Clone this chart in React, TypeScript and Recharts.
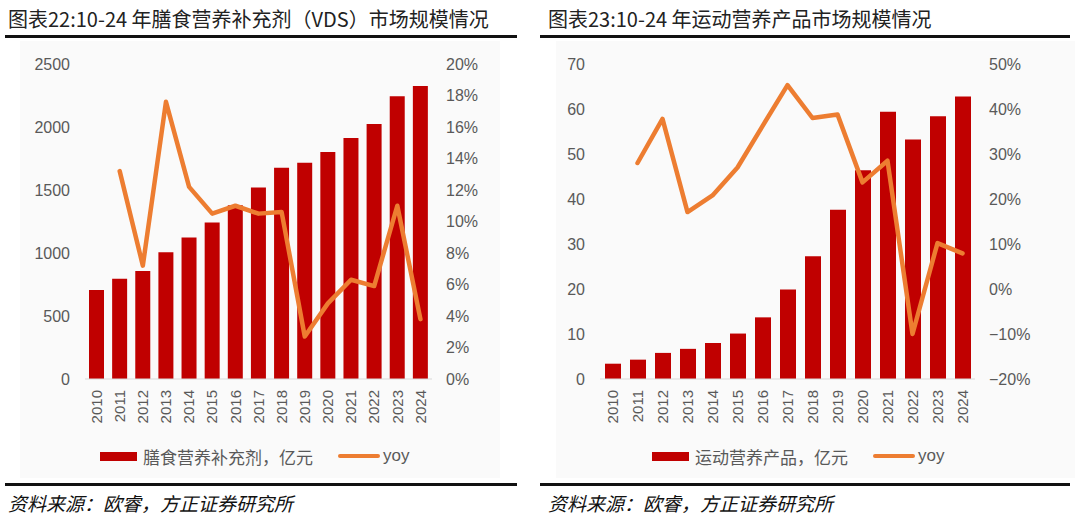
import React from "react";
import {
  Bar,
  ComposedChart,
  Legend,
  Line,
  XAxis,
  YAxis,
} from "recharts";

const years = [
  "2010", "2011", "2012", "2013", "2014", "2015", "2016", "2017",
  "2018", "2019", "2020", "2021", "2022", "2023", "2024",
];

// 膳食营养补充剂（VDS），亿元
const vdsSize = [707, 796, 857, 1005, 1123, 1242, 1379, 1519, 1677, 1717, 1801, 1912, 2023, 2244, 2326];
const vdsYoy = [null, 13.2, 7.2, 17.6, 12.2, 10.5, 11.0, 10.5, 10.6, 2.7, 4.8, 6.3, 5.9, 11.0, 3.8];

// 运动营养产品，亿元
const sportSize = [3.4, 4.3, 5.8, 6.7, 8.0, 10.1, 13.7, 19.9, 27.3, 37.6, 46.4, 59.4, 53.2, 58.4, 62.8];
const sportYoy = [null, 28.0, 37.8, 17.1, 20.8, 27.0, 36.2, 45.3, 38.0, 38.8, 23.7, 28.5, -10.0, 10.2, 7.9];

const vdsLeftTicks = [0, 500, 1000, 1500, 2000, 2500];
const vdsRightTicks = [0, 2, 4, 6, 8, 10, 12, 14, 16, 18, 20];
const sportLeftTicks = [0, 10, 20, 30, 40, 50, 60, 70];
const sportRightTicks = [-20, -10, 0, 10, 20, 30, 40, 50];

const RED = "#C00000";
const ORANGE = "#ED7D31";
const GRAY = "#595959";
const TICK_FONT = "'Liberation Sans', Arial, sans-serif";
const CJK = "'Noto Sans CJK SC', sans-serif";

const pct = (v: number) => (v < 0 ? `\u2212${Math.abs(v)}%` : `${v}%`);

function YearTick(props: any) {
  const { x, y, payload } = props;
  return (
    <text
      x={x}
      y={y + 3}
      transform={`rotate(-90, ${x}, ${y + 3})`}
      textAnchor="end"
      dy="0.35em"
      fill={GRAY}
      fontSize={15}
      fontFamily={TICK_FONT}
    >
      {payload.value}
    </text>
  );
}

function LegendBox({ barName, padLeft }: { barName: string; padLeft: number }) {
  return (
    <div
      style={{
        display: "flex",
        alignItems: "center",
        paddingLeft: padLeft,
        fontSize: 17,
        color: GRAY,
        fontFamily: CJK,
        height: 20,
      }}
    >
      <span style={{ width: 37, height: 9, background: RED, marginRight: 6 }} />
      <span>{barName}</span>
      <span style={{ width: 42, height: 4, borderRadius: 2, background: ORANGE, marginLeft: 25, marginRight: 3 }} />
      <span style={{ fontFamily: TICK_FONT }}>yoy</span>
    </div>
  );
}

function Panel({
  left,
  title,
  barName,
  sizes,
  yoy,
  leftTicks,
  rightTicks,
  leftWidth,
  rightWidth,
  barSize,
  legendPad,
  panelX,
}: {
  left: number;
  title: string;
  barName: string;
  sizes: number[];
  yoy: (number | null)[];
  leftTicks: number[];
  rightTicks: number[];
  leftWidth: number;
  rightWidth: number;
  barSize: number;
  legendPad: number;
  panelX: [number, number];
}) {
  const data = years.map((y, i) => ({ year: y, size: sizes[i], yoy: yoy[i] }));
  const tickStyle = { fill: GRAY, fontSize: 16, fontFamily: TICK_FONT };
  return (
    <div style={{ position: "absolute", left, top: 0, width: 540, height: 519 }}>
      <div
        style={{
          position: "absolute",
          left: panelX[0],
          top: 41,
          width: panelX[1] - panelX[0],
          height: 437,
          background: "#fafafa",
        }}
      />
      <div
        style={{
          position: "absolute",
          left: 8,
          top: 5,
          fontSize: 20,
          lineHeight: "28px",
          color: "#222",
          fontFamily: CJK,
          whiteSpace: "nowrap",
        }}
      >
        {title}
      </div>
      <div style={{ position: "absolute", left: left === 0 ? 5 : 0, top: 35, width: left === 0 ? 512 : 530, height: 3, background: "#111" }} />
      <div style={{ position: "absolute", left: left === 0 ? 5 : 0, top: 483, width: left === 0 ? 512 : 530, height: 3, background: "#111" }} />
      <div
        style={{
          position: "absolute",
          left: 8,
          top: 490,
          fontSize: 19,
          lineHeight: "26px",
          color: "#111",
          fontStyle: "italic",
          fontFamily: CJK,
          whiteSpace: "nowrap",
        }}
      >
        资料来源：欧睿，方正证券研究所
      </div>
      <div style={{ position: "absolute", left: 0, top: 40 }}>
        <ComposedChart
          width={540}
          height={440}
          data={data}
          margin={{ top: 24, right: 0, left: 0, bottom: 14 }}
          barCategoryGap="33%"
        >
          <XAxis
            dataKey="year"
            interval={0}
            tick={<YearTick />}
            tickLine={false}
            axisLine={{ stroke: "#d9d9d9" }}
            height={67}
          />
          <YAxis
            yAxisId="l"
            domain={[leftTicks[0], leftTicks[leftTicks.length - 1]]}
            ticks={leftTicks}
            width={leftWidth}
            axisLine={false}
            tickLine={false}
            tickMargin={9}
            tick={tickStyle}
            interval={0}
          />
          <YAxis
            yAxisId="r"
            orientation="right"
            domain={[rightTicks[0], rightTicks[rightTicks.length - 1]]}
            ticks={rightTicks}
            width={rightWidth}
            axisLine={false}
            tickLine={false}
            tickMargin={8}
            tick={tickStyle}
            tickFormatter={pct}
            interval={0}
          />
          <Bar yAxisId="l" dataKey="size" fill={RED} barSize={barSize} isAnimationActive={false} />
          <Line
            yAxisId="r"
            dataKey="yoy"
            stroke={ORANGE}
            strokeWidth={4.5}
            strokeLinejoin="round"
            strokeLinecap="round"
            dot={false}
            isAnimationActive={false}
          />
          <Legend
            verticalAlign="bottom"
            height={20}
            content={() => <LegendBox barName={barName} padLeft={legendPad} />}
          />
        </ComposedChart>
      </div>
    </div>
  );
}

export default function App() {
  return (
    <div style={{ position: "fixed", left: 0, top: 0, width: 1080, height: 519, background: "#fff", overflow: "hidden" }}>
      <Panel
        left={0}
        title="图表22:10-24 年膳食营养补充剂（VDS）市场规模情况"
        barName="膳食营养补充剂，亿元"
        sizes={vdsSize}
        yoy={vdsYoy}
        leftTicks={vdsLeftTicks}
        rightTicks={vdsRightTicks}
        leftWidth={85}
        rightWidth={108}
        barSize={15}
        legendPad={100}
        panelX={[20, 500]}
      />
      <Panel
        left={540}
        title="图表23:10-24 年运动营养产品市场规模情况"
        barName="运动营养产品，亿元"
        sizes={sportSize}
        yoy={sportYoy}
        leftTicks={sportLeftTicks}
        rightTicks={sportRightTicks}
        leftWidth={60}
        rightWidth={105}
        barSize={16}
        legendPad={112}
        panelX={[16, 535]}
      />
    </div>
  );
}
